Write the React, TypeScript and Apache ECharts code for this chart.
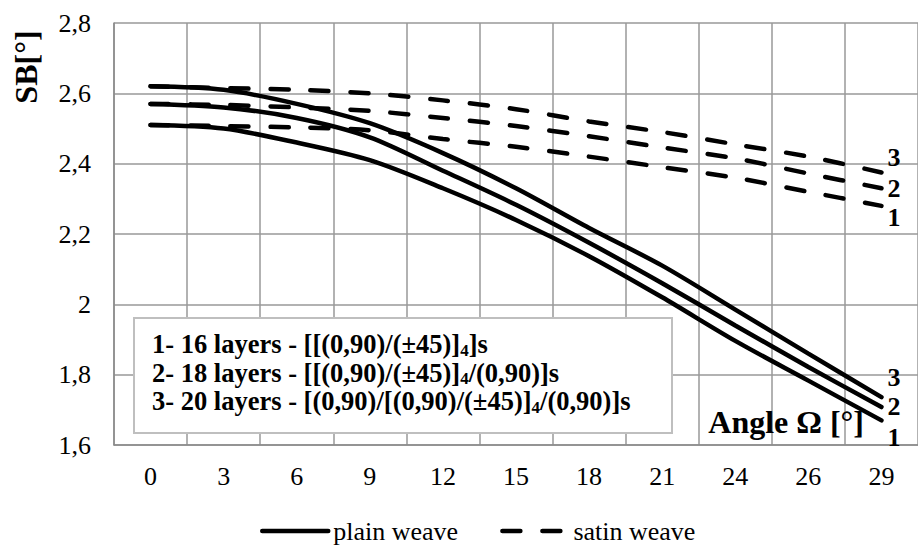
import React, { useEffect, useRef } from "react";
import * as echarts from "echarts";

const categories = ["0", "3", "6", "9", "12", "15", "18", "21", "24", "26", "29"];
const plain1 = [2.51, 2.5, 2.46, 2.41, 2.33, 2.24, 2.137, 2.02, 1.896, 1.783, 1.67];
const plain2 = [2.57, 2.56, 2.53, 2.475, 2.38, 2.283, 2.175, 2.06, 1.94, 1.822, 1.708];
const plain3 = [2.62, 2.61, 2.57, 2.515, 2.43, 2.33, 2.217, 2.11, 1.985, 1.86, 1.736];
const satin1 = [2.51, 2.507, 2.503, 2.495, 2.47, 2.448, 2.42, 2.39, 2.36, 2.32, 2.28];
const satin2 = [2.57, 2.567, 2.56, 2.55, 2.53, 2.507, 2.478, 2.446, 2.415, 2.372, 2.33];
const satin3 = [2.62, 2.615, 2.61, 2.6, 2.58, 2.555, 2.52, 2.49, 2.455, 2.42, 2.375];
const legendNames = ["plain weave", "satin weave"];
const boxLines = [
  "{b|1- 16 layers - [[(0,90)/(±45)]}{s|4}{b|]s}",
  "{b|2- 18 layers - [[(0,90)/(±45)]}{s|4}{b|/(0,90)]s}",
  "{b|3- 20 layers - [(0,90)/[(0,90)/(±45)]}{s|4}{b|/(0,90)]s}",
];

const FONT = "Liberation Serif";

export default function App() {
  const ref = useRef<HTMLDivElement>(null);
  useEffect(() => {
    if (!ref.current) return;
    const chart = echarts.init(ref.current, null, { renderer: "svg" });
    const mk = (name: string, data: number[], dashed: boolean, lbl: string, dy: number) => ({
      name,
      type: "line",
      data,
      smooth: 0.3,
      symbol: "none",
      lineStyle: {
        color: "#000",
        width: 4.5,
        type: dashed ? [18, 22] : "solid",
        cap: "round",
      },
      itemStyle: { color: "#000" },
      endLabel: {
        show: true,
        formatter: lbl,
        distance: 6,
        offset: [0, dy],
        color: "#000",
        fontSize: 26,
        fontWeight: "bold",
        fontFamily: FONT,
      },
      z: dashed ? 3 : 4,
    });
    chart.setOption({
      animation: false,
      backgroundColor: "#fff",
      textStyle: { fontFamily: FONT },
      grid: { left: 114, top: 23, width: 814, height: 422, containLabel: false },
      xAxis: {
        type: "category",
        data: categories,
        boundaryGap: true,
        axisLine: { lineStyle: { color: "#8a8a8a", width: 1.5 } },
        axisTick: { show: false },
        axisLabel: { color: "#000", fontSize: 26, fontFamily: FONT, margin: 18 },
        splitLine: { show: true, lineStyle: { color: "#999", width: 1.5 } },
      },
      yAxis: {
        type: "value",
        min: 1.6,
        max: 2.8,
        interval: 0.2,
        axisLine: { show: true, lineStyle: { color: "#8a8a8a", width: 1.5 } },
        axisTick: { show: false },
        axisLabel: {
          color: "#000",
          fontSize: 26,
          fontFamily: FONT,
          margin: 23,
          formatter: (v: number) => String(Math.round(v * 10) / 10).replace(".", ","),
        },
        splitLine: { show: true, lineStyle: { color: "#999", width: 1.5 } },
      },
      legend: {
        data: legendNames,
        left: 260,
        top: 518,
        padding: 0,
        itemWidth: 66,
        itemHeight: 14,
        itemGap: 42,
        itemStyle: { color: "rgba(0,0,0,0)", borderWidth: 0, opacity: 0 },
        lineStyle: { width: 4.5, cap: "round" },
        textStyle: { color: "#000", fontSize: 26, fontFamily: FONT },
      },
      series: [
        mk(legendNames[0], plain1, false, "1", 17),
        mk(legendNames[0], plain2, false, "2", -1),
        mk(legendNames[0], plain3, false, "3", -20),
        mk(legendNames[1], satin1, true, "1", 12),
        mk(legendNames[1], satin2, true, "2", 0),
        mk(legendNames[1], satin3, true, "3", -15),
      ],
      graphic: [
        {
          type: "rect",
          z: 100,
          shape: { x: 134, y: 318, width: 538, height: 115 },
          style: { fill: "#fff", stroke: "#bfbfbf", lineWidth: 2 },
        },
        {
          type: "text",
          z: 101,
          x: 152,
          y: 330,
          style: {
            text: boxLines.join("\n"),
            textAlign: "left",
            textVerticalAlign: "top",
            fill: "#000",
            font: `bold 26.5px ${FONT}`,
            rich: {
              b: { font: `bold 26.5px ${FONT}`, fontSize: 26.5, fontWeight: "bold", fontFamily: FONT, lineHeight: 28.5, fill: "#000" },
              s: { font: `bold 17px ${FONT}`, fontSize: 17, fontWeight: "bold", fontFamily: FONT, lineHeight: 14, verticalAlign: "bottom", fill: "#000" },
            },
          },
        },
        {
          type: "text",
          z: 101,
          x: 864,
          y: 422,
          style: {
            text: "Angle Ω [°]",
            textAlign: "right",
            textVerticalAlign: "middle",
            fill: "#000",
            font: `bold 32px ${FONT}`,
          },
        },
        {
          type: "text",
          z: 101,
          x: 26,
          y: 67,
          rotation: Math.PI / 2,
          style: {
            text: "SB[°]",
            textAlign: "center",
            textVerticalAlign: "middle",
            fill: "#000",
            font: `bold 32px ${FONT}`,
          },
        },
      ],
    });
    return () => chart.dispose();
  }, []);
  return (
    <div
      ref={ref}
      style={{ position: "absolute", left: 0, top: 0, width: 918, height: 545 }}
    />
  );
}
